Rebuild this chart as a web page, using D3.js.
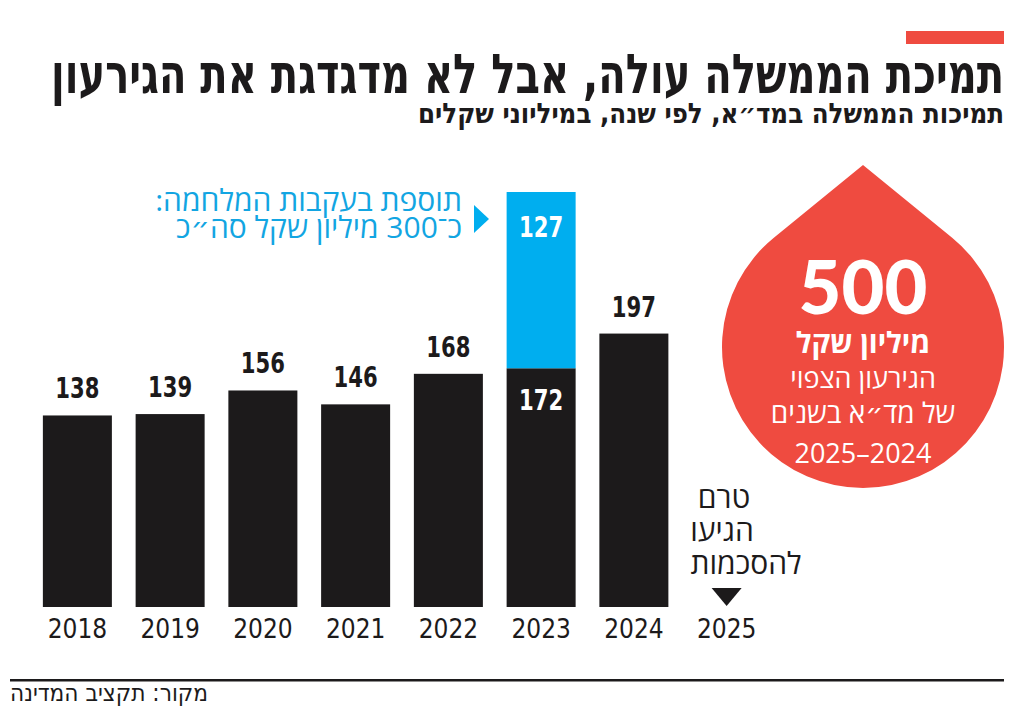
<!DOCTYPE html>
<html><head><meta charset="utf-8">
<script src="https://cdn.jsdelivr.net/npm/d3@7"></script>
<style>
html,body{margin:0;padding:0;background:#fff;}
svg{display:block;}
</style></head>
<body>
<svg id="chart" width="1024" height="717"></svg>
<script>
const years = ["2018","2019","2020","2021","2022","2023","2024","2025"];
const baseValues = [138, 139, 156, 146, 168, 172, 197, null];
const warValues = [0, 0, 0, 0, 0, 127, 0, null];
const title = "תמיכת הממשלה עולה, אבל לא מדגדגת את הגירעון";
const subtitle = "תמיכות הממשלה במד״א, לפי שנה, במיליוני שקלים";
const warNote = ["תוספת בעקבות המלחמה:", "כ־300 מיליון שקל סה״כ"];
const dropLines = ["500", "מיליון שקל", "הגירעון הצפוי", "של מד״א בשנים", "2025–2024"];
const pendingNote = ["טרם", "הגיעו", "להסכמות"];
const source = "מקור: תקציב המדינה";

const svg = d3.select("#chart");
const narrow = "'Liberation Sans Narrow','DejaVu Sans Condensed',sans-serif";
const sans = "'Open Sans','DejaVu Sans',sans-serif";
const BLACK = "#1c1a1b", BLUE = "#00aeef", RED = "#ef4b40";

// header
svg.append("rect").attr("x", 906).attr("y", 31).attr("width", 98).attr("height", 13).attr("fill", RED);
svg.append("text").attr("x", 1004).attr("y", 93).attr("direction", "rtl").attr("text-anchor", "start")
  .attr("font-family", narrow).attr("font-weight", "bold").attr("font-size", 55).attr("fill", BLACK)
  .attr("textLength", 953).attr("lengthAdjust", "spacingAndGlyphs").text(title);
svg.append("text").attr("x", 1004).attr("y", 123).attr("direction", "rtl").attr("text-anchor", "start")
  .attr("font-family", narrow).attr("font-weight", "bold").attr("font-size", 28).attr("fill", BLACK)
  .attr("textLength", 586).attr("lengthAdjust", "spacingAndGlyphs").text(subtitle);

// scales
const x = d3.scaleBand().domain(years).range([31, 773]).paddingInner(0.256).paddingOuter(0.128);
const y = d3.scaleLinear().domain([0, 299]).range([607, 192]);

const data = years.map((yr, i) => ({year: yr, base: baseValues[i], war: warValues[i]}));
const bars = data.filter(d => d.base != null);

// base bars
svg.append("g").selectAll("rect").data(bars).join("rect")
  .attr("x", d => x(d.year)).attr("width", x.bandwidth())
  .attr("y", d => y(d.base)).attr("height", d => y(0) - y(d.base)).attr("fill", BLACK);
// war bars
svg.append("g").selectAll("rect").data(bars.filter(d => d.war > 0)).join("rect")
  .attr("x", d => x(d.year)).attr("width", x.bandwidth())
  .attr("y", d => y(d.base + d.war)).attr("height", d => y(d.base) - y(d.base + d.war)).attr("fill", BLUE);

// value labels (condensed look via horizontal scale)
const lbl = svg.append("g").attr("font-family", narrow).attr("font-weight", "bold").attr("font-size", 28).attr("text-anchor", "middle");
lbl.selectAll("text.base").data(bars).join("text").attr("class", "base")
  .attr("transform", d => `translate(${x(d.year) + x.bandwidth() / 2},${d.war > 0 ? y(d.base) + 42 : y(d.base) - 17}) scale(0.84,1)`)
  .attr("fill", d => d.war > 0 ? "#fff" : BLACK).text(d => d.base);
lbl.selectAll("text.war").data(bars.filter(d => d.war > 0)).join("text").attr("class", "war")
  .attr("transform", d => `translate(${x(d.year) + x.bandwidth() / 2},${y(d.base + d.war) + 45}) scale(0.84,1)`)
  .attr("fill", "#fff").text(d => d.war);

// x axis
const xAxis = svg.append("g").attr("transform", `translate(0,${y(0)})`)
  .call(d3.axisBottom(x).tickSize(0).tickPadding(13));
xAxis.select(".domain").remove();
xAxis.selectAll("text").attr("font-family", narrow).attr("font-size", 26).attr("fill", BLACK).attr("dy", "0.71em");

// war annotation
const warBar = bars.find(d => d.war > 0);
const ay = y(warBar.base + warBar.war);
svg.append("path").attr("d", `M474,${ay + 13}L489,${ay + 27}L474,${ay + 41}Z`).attr("fill", BLUE);
svg.selectAll("text.note").data(warNote).join("text").attr("class", "note")
  .attr("x", 462).attr("y", (d, i) => ay + 19 + i * 27).attr("direction", "rtl").attr("text-anchor", "start")
  .attr("font-family", sans).attr("font-size", 30).attr("fill", "#12a5e2").text(d => d);

// pending 2025
const cx25 = x("2025") + x.bandwidth() / 2;
svg.append("path").attr("d", `M${cx25 - 15},${y(0) - 19}L${cx25 + 15},${y(0) - 19}L${cx25},${y(0) - 1}Z`).attr("fill", BLACK);
const pendX = [724, 722, 746];
svg.selectAll("text.pend").data(pendingNote).join("text").attr("class", "pend")
  .attr("x", (d, i) => pendX[i]).attr("y", (d, i) => 508 + i * 33).attr("text-anchor", "middle")
  .attr("font-family", sans).attr("font-size", 30).attr("fill", BLACK).text(d => d);

// drop
const dcx = 863, dcy = 347, r = 141, tipY = 165;
const dist = dcy - tipY;
const ang = Math.asin(r / dist);
const tx = r * Math.cos(ang), tyy = dcy - (r * r) / dist;
svg.append("path").attr("fill", RED)
  .attr("d", `M${dcx},${tipY}L${dcx + tx},${tyy}A${r},${r} 0 1 1 ${dcx - tx},${tyy}Z`);
const dropG = svg.append("g").attr("fill", "#fff").attr("text-anchor", "middle");
dropG.append("text").attr("x", dcx).attr("y", 314).attr("font-family", "'Lato','Open Sans',sans-serif").attr("font-weight", 900).attr("font-size", 74).text(dropLines[0]);
dropG.append("text").attr("x", dcx).attr("y", 353).attr("direction", "rtl").attr("font-family", sans).attr("font-weight", "bold").attr("font-size", 29).text(dropLines[1]);
dropG.append("text").attr("x", dcx).attr("y", 388).attr("direction", "rtl").attr("font-family", sans).attr("font-size", 27).text(dropLines[2]);
dropG.append("text").attr("x", dcx).attr("y", 423).attr("direction", "rtl").attr("font-family", sans).attr("font-size", 28).text(dropLines[3]);
dropG.append("text").attr("x", dcx).attr("y", 463).attr("font-family", sans).attr("font-size", 27).text(dropLines[4]);

// footer
svg.append("rect").attr("x", 10).attr("y", 679).attr("width", 994).attr("height", 2.5).attr("fill", BLACK);
svg.append("text").attr("x", 208).attr("y", 701).attr("direction", "rtl").attr("text-anchor", "start")
  .attr("font-family", narrow).attr("font-size", 24).attr("fill", BLACK)
  .attr("textLength", 198).attr("lengthAdjust", "spacingAndGlyphs").text(source);
</script>
</body></html>
